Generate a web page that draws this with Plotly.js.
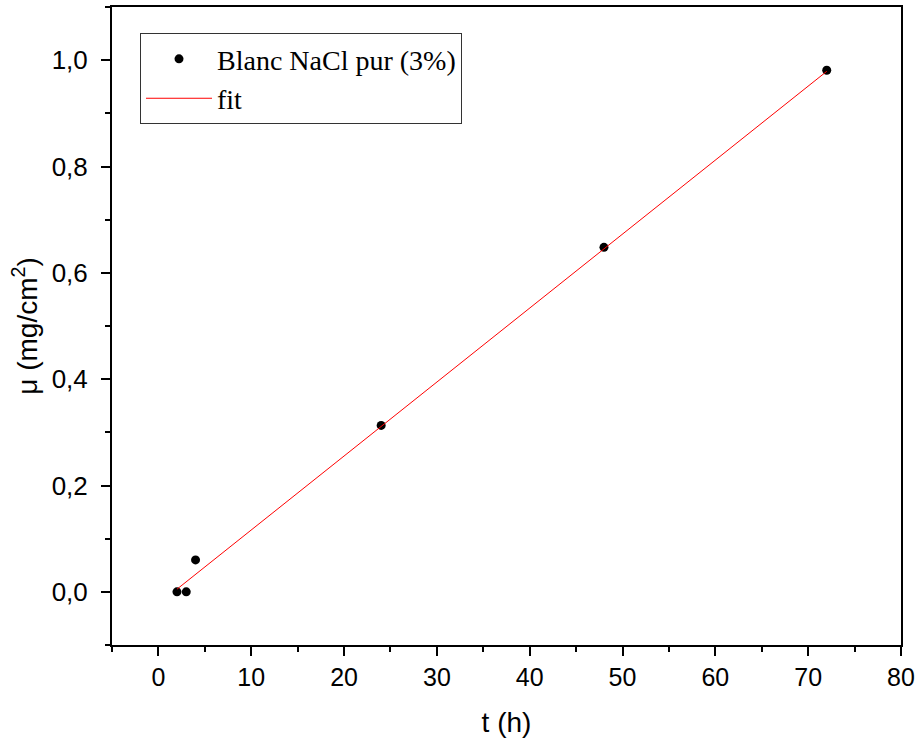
<!DOCTYPE html>
<html>
<head>
<meta charset="utf-8">
<script src="https://cdn.plot.ly/plotly-3.0.1.min.js"></script>
<style>
html,body{margin:0;padding:0;background:#fff;}
#chart{width:918px;height:747px;}
</style>
</head>
<body>
<div id="chart"></div>
<script>
// Measured data
const timeHours = [2, 3, 4, 24, 48, 72];
const massGain = [0, 0, 0.06, 0.313, 0.648, 0.981];
// Fit line endpoints
const fitX = [2, 72];
const fitY = [0.005, 0.979];
const xTickVals = [0, 10, 20, 30, 40, 50, 60, 70, 80];

const traces = [
  {
    x: timeHours, y: massGain, type: 'scatter', mode: 'markers',
    name: 'Blanc NaCl pur (3%)',
    marker: {color: '#000000', size: 9}
  },
  {
    x: fitX, y: fitY, type: 'scatter', mode: 'lines',
    name: 'fit',
    line: {color: '#ff0000', width: 1}
  }
];

const axisFont = {family: 'Liberation Sans, Arial, sans-serif', size: 25, color: '#000'};

const layout = {
  width: 918, height: 747,
  margin: {l: 112, r: 17, t: 7, b: 102},
  paper_bgcolor: '#fff', plot_bgcolor: '#fff',
  separators: ',.',
  showlegend: true,
  legend: {
    x: 0.0355, y: 0.959, xanchor: 'left', yanchor: 'top',
    bgcolor: '#fff', bordercolor: '#333', borderwidth: 1,
    font: {family: 'Liberation Serif, Times New Roman, serif', size: 28, color: '#000'},
    itemwidth: 66,
    tracegroupgap: 0
  },
  xaxis: {
    range: [-5, 80], tickvals: xTickVals,
    showgrid: false, zeroline: false,
    showline: true, linecolor: '#000', linewidth: 2, mirror: true,
    ticks: 'outside', ticklen: 9, tickwidth: 2, tickcolor: '#000',
    minor: {dtick: 5, tick0: 0, ticks: 'outside', ticklen: 5, tickwidth: 2, tickcolor: '#000', showgrid: false},
    tickfont: axisFont,
    title: {text: 't (h)', font: {family: 'Liberation Sans, Arial, sans-serif', size: 28, color: '#000'}, standoff: 22}
  },
  yaxis: {
    range: [-0.1, 1.1], dtick: 0.2, tick0: 0, tickformat: '.1f',
    showgrid: false, zeroline: false,
    showline: true, linecolor: '#000', linewidth: 2, mirror: true,
    ticks: 'outside', ticklen: 9, tickwidth: 2, tickcolor: '#000',
    ticklabelstandoff: 8,
    minor: {dtick: 0.1, tick0: 0, ticks: 'outside', ticklen: 5, tickwidth: 2, tickcolor: '#000', showgrid: false},
    tickfont: {family: 'Liberation Sans, Arial, sans-serif', size: 26, color: '#000'},
    title: {text: 'μ (mg/cm<sup>2</sup>)', font: {family: 'Liberation Sans, Arial, sans-serif', size: 28, color: '#000'}, standoff: 6}
  }
};

Plotly.newPlot('chart', traces, layout, {displayModeBar: false, staticPlot: true});
</script>
</body>
</html>
